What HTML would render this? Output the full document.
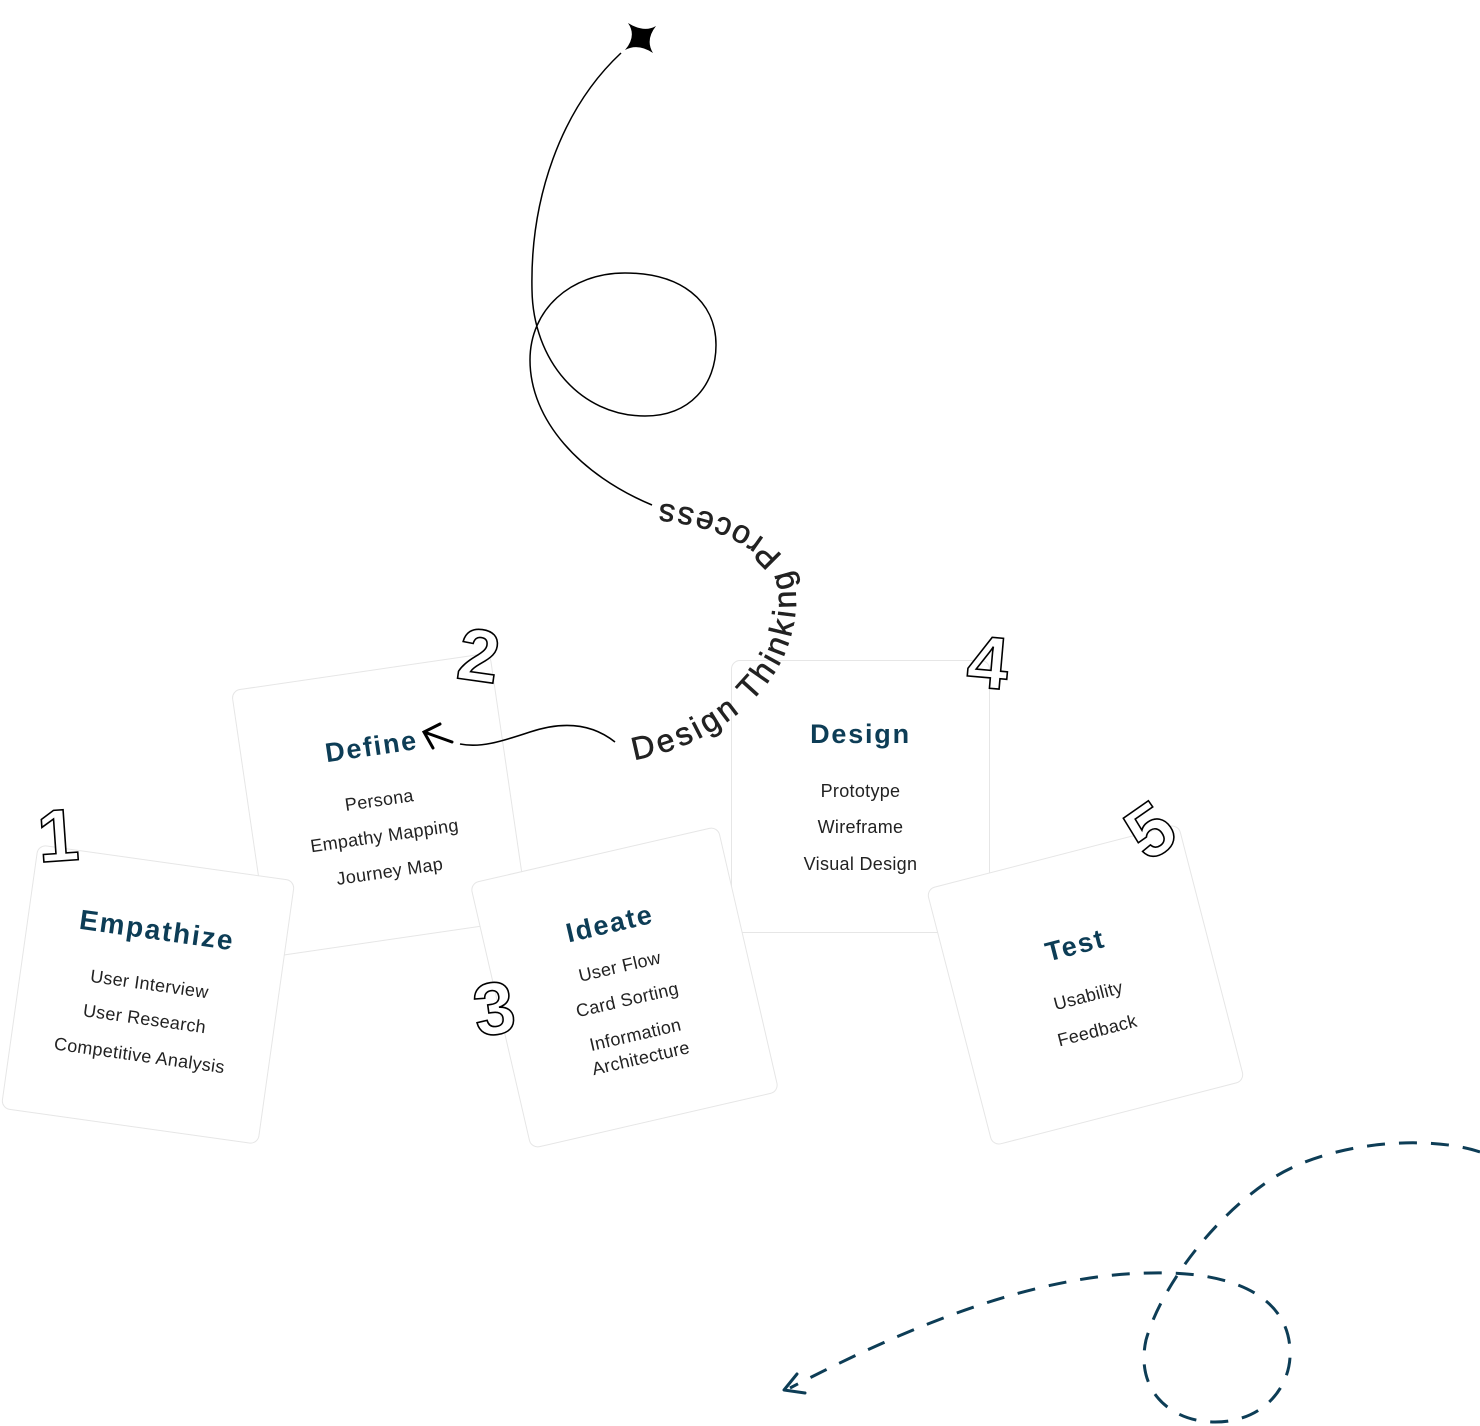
<!DOCTYPE html>
<html><head><meta charset="utf-8"><style>
html,body{margin:0;padding:0;background:#fff;}
body{width:1480px;height:1426px;position:relative;overflow:hidden;font-family:"Liberation Sans",sans-serif;}
.card{position:absolute;background:#fff;border:1.3px solid #e6e6e6;border-radius:9px;box-sizing:border-box;text-align:center;}
.card .t{position:absolute;left:0;right:0;font-weight:bold;font-size:27px;letter-spacing:1.8px;color:#0d3d56;}
.card .i{position:absolute;left:0;right:0;font-size:18px;letter-spacing:0.3px;color:#222;}
svg{position:absolute;left:0;top:0;}
</style></head><body>

<!-- card 2 Define -->
<div class="card" style="left:249px;top:670px;width:262px;height:270px;transform:rotate(-8.3deg);">
  <div class="t" style="top:60px;">Define</div>
  <div class="i" style="top:119px;">Persona</div>
  <div class="i" style="top:155px;">Empathy Mapping</div>
  <div class="i" style="top:191px;">Journey Map</div>
</div>
<!-- card 4 Design -->
<div class="card" style="left:731px;top:660px;width:259px;height:273px;">
  <div class="t" style="top:58px;">Design</div>
  <div class="i" style="top:120px;">Prototype</div>
  <div class="i" style="top:156px;">Wireframe</div>
  <div class="i" style="top:193px;">Visual Design</div>
</div>
<!-- card 1 Empathize -->
<div class="card" style="left:18px;top:861px;width:260px;height:267px;transform:rotate(8deg);">
  <div class="t" style="top:52px;font-size:28px;">Empathize</div>
  <div class="i" style="top:112px;">User Interview</div>
  <div class="i" style="top:147px;">User Research</div>
  <div class="i" style="top:184px;">Competitive Analysis</div>
</div>
<!-- card 3 Ideate -->
<div class="card" style="left:497px;top:851px;width:255px;height:273px;transform:rotate(-13deg);">
  <div class="t" style="top:55px;">Ideate</div>
  <div class="i" style="top:104px;">User Flow</div>
  <div class="i" style="top:138px;">Card Sorting</div>
  <div class="i" style="top:172px;line-height:24px;">Information<br>Architecture</div>
</div>
<!-- card 5 Test -->
<div class="card" style="left:955px;top:852px;width:261px;height:266px;transform:rotate(-14.5deg);">
  <div class="t" style="top:76px;">Test</div>
  <div class="i" style="top:133px;">Usability</div>
  <div class="i" style="top:169px;">Feedback</div>
</div>

<svg width="1480" height="1426" viewBox="0 0 1480 1426">
  <!-- star -->
  <path d="M628,23 Q644,33 656,26 Q645,40 653,53 Q638,43 625,50 Q637,36 628,23 Z" fill="#000"/>
  <!-- main curve -->
  <path d="M621,53 C560,110 530,200 532,290 C533,360 580,416 645,416 C690,416 716,385 716,345 C716,300 680,273 625,273 C570,273 530,310 530,360 C530,420 580,475 652,505" fill="none" stroke="#000" stroke-width="1.5"/>
  <!-- wiggle to define -->
  <path d="M615,742 C590,722 560,722 530,732 C500,742 480,748 460,744" fill="none" stroke="#000" stroke-width="1.6"/>
  <path d="M452,742 L424,732 M440,724 L424,732 L433,748" fill="none" stroke="#000" stroke-width="3" stroke-linecap="round"/>
  <!-- curved text -->
  <path id="tp" d="M634,760 C700,748 755,712 782,660 C800,620 800,585 785,560 C760,525 710,508 655,503" fill="none"/>
  <text font-family="Liberation Sans, sans-serif" font-size="32" fill="#222" stroke="#222" stroke-width="0.6"><textPath href="#tp" textLength="430" lengthAdjust="spacing">Design Thinking Process</textPath></text>
  <!-- numbers -->
  <g font-family="Liberation Sans, sans-serif" font-weight="bold" font-size="74" fill="#fff" stroke="#000" stroke-width="1.6">
    <text x="58" y="861" text-anchor="middle" transform="rotate(-4 58 835)">1</text>
    <text x="479" y="681" text-anchor="middle" transform="rotate(8 479 655)">2</text>
    <text x="494" y="1034" text-anchor="middle" transform="rotate(-8 494 1008)">3</text>
    <text x="988" y="688" text-anchor="middle" transform="rotate(5 988 662)">4</text>
    <text x="1150" y="856" text-anchor="middle" transform="rotate(-35 1150 830)">5</text>
  </g>
  <!-- dashed curve -->
  <path d="M1480,1152 C1430,1135 1330,1140 1270,1180 C1210,1220 1160,1290 1146,1340 C1135,1390 1170,1422 1215,1422 C1265,1422 1292,1385 1290,1350 C1288,1300 1240,1275 1170,1273 C1060,1270 940,1310 790,1388" fill="none" stroke="#0d3d56" stroke-width="3" stroke-dasharray="18 14"/>
  <path d="M797,1374 L784,1390 L805,1393" fill="none" stroke="#0d3d56" stroke-width="3" stroke-linecap="round" stroke-linejoin="round"/>
</svg>
</body></html>
